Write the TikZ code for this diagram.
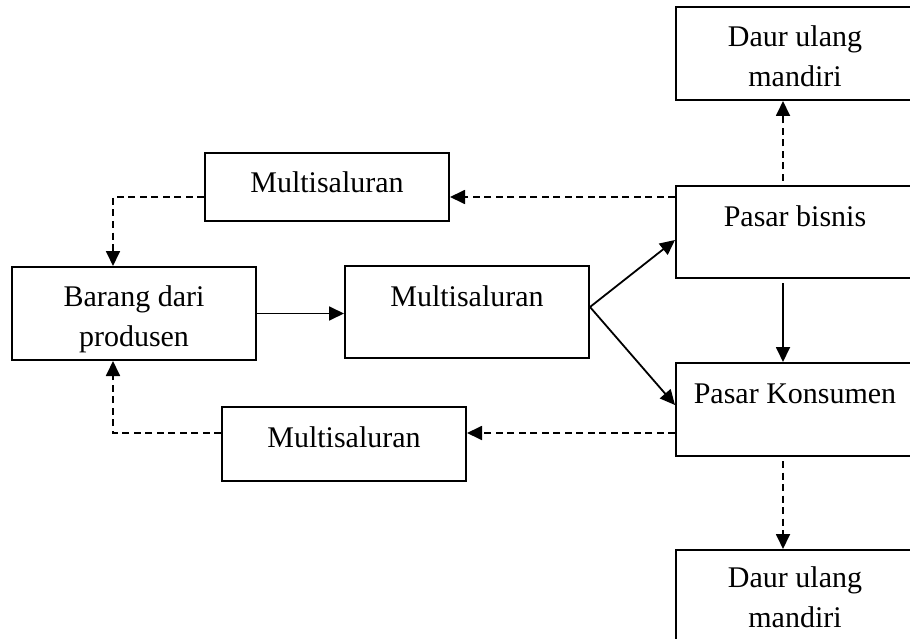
\documentclass[tikz,border=0pt]{standalone}
\usepackage{fontspec}
\setmainfont{Liberation Serif}
\usetikzlibrary{arrows.meta}

\begin{document}
\begin{tikzpicture}[x=1pt,y=-1pt,
    box/.style={draw,line width=2pt,inner sep=0pt,minimum width=244pt,
      font=\fontsize{30}{40}\selectfont,align=center},
    onebox/.style={box,text height=40pt},
    solidarrow/.style={line width=1.8pt,-{Triangle[length=15pt,width=14pt]}},
    dasharrow/.style={solidarrow,dash pattern=on 7pt off 4.5pt}]
  \useasboundingbox (0,0) rectangle (910,639);

  \node[box,minimum width=238pt,minimum height=93pt] (daurA) at (795,53.5) {\rule{0pt}{27pt}Daur ulang\\mandiri};
  \node[onebox,minimum width=238pt,text depth=52pt] (bisnis) at (795,232) {Pasar bisnis};
  \node[onebox,minimum width=238pt,text depth=53pt] (konsumen) at (795,409.5) {Pasar Konsumen};
  \node[box,minimum width=238pt,minimum height=95pt] (daurB) at (795,597.5) {Daur ulang\\mandiri};

  \node[onebox,text depth=28pt] (multiA) at (327,187) {Multisaluran};
  \node[box,minimum height=93pt] (barang) at (134,313.5) {\rule{0pt}{33pt}Barang dari\\produsen};
  \node[onebox,text depth=52pt] (multiB) at (467,312) {Multisaluran};
  \node[onebox,text depth=34pt] (multiC) at (344,444) {Multisaluran};

  \draw[solidarrow] (barang.east) -- (barang.east -| multiB.west);
  \draw[solidarrow] ([yshift=5pt]multiB.east) -- ([yshift=-8pt]bisnis.west);
  \draw[solidarrow] ([yshift=5pt]multiB.east) -- ([yshift=4.5pt]konsumen.west);
  \draw[solidarrow] ([xshift=-12pt,yshift=-4pt]bisnis.south) -- ([xshift=-12pt]konsumen.north);

  \draw[dasharrow] ([xshift=-12pt,yshift=4pt]bisnis.north) -- ([xshift=-12pt]daurA.south);
  \draw[dasharrow] ([xshift=-12pt,yshift=-4pt]konsumen.south) -- ([xshift=-12pt]daurB.north);
  \draw[dasharrow] ([yshift=35pt]bisnis.west) -- ([yshift=-10pt]multiA.east);
  \draw[dasharrow] ([yshift=-23.5pt]konsumen.west) -- ([yshift=11pt]multiC.east);
  \draw[dasharrow] ([yshift=-10pt]multiA.west) -| ([xshift=-21pt]barang.north);
  \draw[dasharrow] ([yshift=11pt]multiC.west) -| ([xshift=-21pt]barang.south);
\end{tikzpicture}
\end{document}
